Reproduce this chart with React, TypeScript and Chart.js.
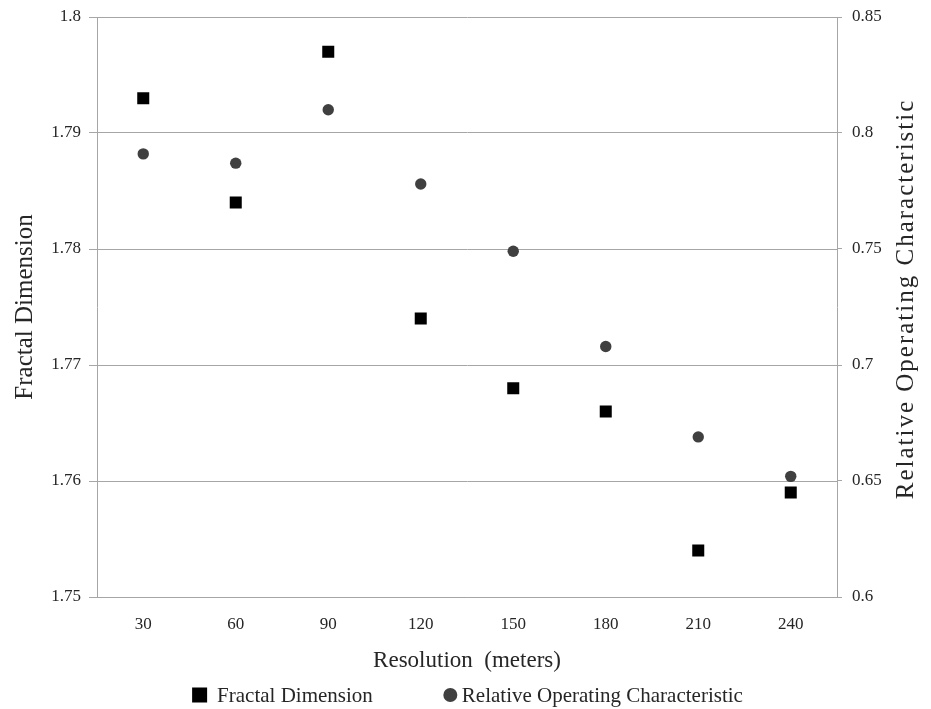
import React, { useEffect, useRef } from "react";
import { Chart, registerables } from "chart.js";

Chart.register(...registerables);

const categories = ["30", "60", "90", "120", "150", "180", "210", "240"];
const fractalDimension = [1.793, 1.784, 1.797, 1.774, 1.768, 1.766, 1.754, 1.759];
const rocValues = [0.791, 0.787, 0.81, 0.778, 0.749, 0.708, 0.669, 0.652];
const leftRange = [1.75, 1.8, 0.01];
const rightRange = [0.6, 0.85, 0.05];
const xTitle = "Resolution  (meters)";
const leftTitle = "Fractal Dimension";
const rightTitle = "Relative Operating Characteristic";

const SERIF = "'Liberation Serif', 'Times New Roman', serif";
const GRID = "#a6a6a6";
const TEXT = "#262626";

const fmt = (v: number) => String(parseFloat(Number(v).toFixed(2)));

const bottomLegend = {
  id: "bottomLegend",
  afterDraw(chart: any) {
    const ctx = chart.ctx as CanvasRenderingContext2D;
    const items = chart.data.datasets.map((ds: any) => ({
      label: ds.label as string,
      style: ds.pointStyle as string,
      color: ds.pointBackgroundColor as string,
    }));
    ctx.save();
    ctx.font = `21px ${SERIF}`;
    ctx.textBaseline = "middle";
    ctx.fillStyle = TEXT;
    const y = 695;
    const markerW = 15;
    const gaps = items.map((it: any) => (it.style === "rect" ? 10 : 4));
    const itemGap = 70;
    const widths = items.map(
      (it: any, i: number) => markerW + gaps[i] + ctx.measureText(it.label).width
    );
    const total =
      widths.reduce((a: number, b: number) => a + b, 0) + itemGap * (items.length - 1);
    let x = chart.width / 2 - total / 2 + 2;
    items.forEach((it: any, i: number) => {
      ctx.fillStyle = it.color;
      if (it.style === "rect") {
        ctx.fillRect(x, y - 7.5, 15, 15);
      } else {
        ctx.beginPath();
        ctx.arc(x + 7.5, y, 7, 0, Math.PI * 2);
        ctx.fill();
      }
      ctx.fillStyle = TEXT;
      ctx.textAlign = "left";
      ctx.fillText(it.label, x + markerW + gaps[i], y + 1);
      x += widths[i] + itemGap;
    });
    ctx.restore();
  },
};

const rightTitlePlugin = {
  id: "rightTitle",
  afterDraw(chart: any) {
    const ctx = chart.ctx as CanvasRenderingContext2D;
    const area = chart.chartArea;
    ctx.save();
    ctx.font = `25px ${SERIF}`;
    (ctx as any).letterSpacing = "2px";
    ctx.fillStyle = TEXT;
    ctx.textAlign = "center";
    ctx.textBaseline = "middle";
    ctx.translate(906, (area.top + area.bottom) / 2 - 8);
    ctx.rotate(-Math.PI / 2);
    ctx.fillText(rightTitle, 0, 0);
    ctx.restore();
  },
};

export default function App() {
  const ref = useRef<HTMLCanvasElement | null>(null);

  useEffect(() => {
    document.body.style.margin = "0";
    const canvas = ref.current;
    if (!canvas) return;
    const chart = new Chart(canvas, {
      type: "line",
      data: {
        labels: categories,
        datasets: [
          {
            label: "Fractal Dimension",
            data: fractalDimension,
            yAxisID: "y",
            showLine: false,
            pointStyle: "rect",
            pointRadius: 8.5,
            pointHoverRadius: 8.5,
            pointBackgroundColor: "#000000",
            pointBorderWidth: 0,
            borderColor: "#000000",
            backgroundColor: "#000000",
          } as any,
          {
            label: "Relative Operating Characteristic",
            data: rocValues,
            yAxisID: "y1",
            showLine: false,
            pointStyle: "circle",
            pointRadius: 5.7,
            pointHoverRadius: 5.7,
            pointBackgroundColor: "#404040",
            pointBorderWidth: 0,
            borderColor: "#404040",
            backgroundColor: "#404040",
          } as any,
        ],
      },
      options: {
        animation: false,
        responsive: false,
        maintainAspectRatio: false,
        layout: { padding: { top: 17, left: 0, right: 0, bottom: 0 } },
        plugins: {
          legend: { display: false },
          tooltip: { enabled: false },
        },
        scales: {
          x: {
            type: "category",
            offset: true,
            grid: { display: false, drawTicks: false },
            border: { display: true, color: GRID },
            ticks: {
              padding: 17,
              color: TEXT,
              font: { family: SERIF, size: 17 },
              maxRotation: 0,
            },
            title: {
              display: true,
              text: xTitle,
              color: TEXT,
              font: { family: SERIF, size: 23 },
              padding: { top: 0, bottom: 34 },
            },
            afterFit(scale: any) {
              scale.height = 112;
              scale.paddingLeft = 0;
              scale.paddingRight = 0;
            },
          } as any,
          y: {
            position: "left",
            min: leftRange[0],
            max: leftRange[1],
            grid: {
              color: GRID,
              lineWidth: 1,
              drawTicks: true,
              tickLength: 8,
              tickColor: GRID,
            },
            border: { display: true, color: GRID },
            ticks: {
              stepSize: leftRange[2],
              padding: 8,
              color: TEXT,
              font: { family: SERIF, size: 17 },
              callback: (v: any) => fmt(v),
            },
            title: {
              display: true,
              text: leftTitle,
              color: TEXT,
              font: { family: SERIF, size: 25 },
              padding: { top: 10, bottom: 0 },
            },
            afterFit(scale: any) {
              scale.width = 97;
              scale.paddingTop = 0;
              scale.paddingBottom = 0;
            },
          } as any,
          y1: {
            position: "right",
            min: rightRange[0],
            max: rightRange[1],
            grid: {
              drawOnChartArea: false,
              drawTicks: true,
              tickLength: 5,
              color: GRID,
              tickColor: GRID,
            },
            border: { display: true, color: GRID },
            ticks: {
              stepSize: rightRange[2],
              padding: 10,
              color: TEXT,
              font: { family: SERIF, size: 17 },
              callback: (v: any) => fmt(v),
            },
            afterFit(scale: any) {
              scale.width = 94;
              scale.paddingTop = 0;
              scale.paddingBottom = 0;
            },
          } as any,
        },
      },
      plugins: [bottomLegend, rightTitlePlugin],
    });
    return () => chart.destroy();
  }, []);

  return (
    <div style={{ width: 931, height: 709, background: "#ffffff" }}>
      <canvas ref={ref} width={931} height={709} style={{ display: "block" }} />
    </div>
  );
}
